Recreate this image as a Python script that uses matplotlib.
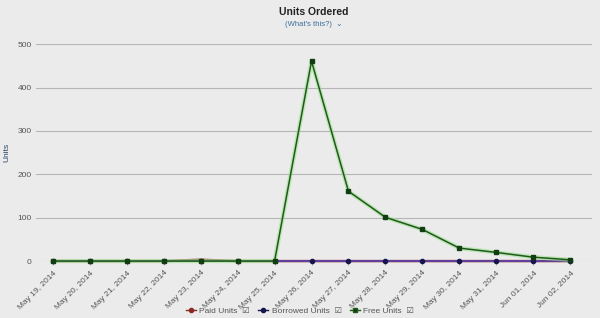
import matplotlib
matplotlib.use("Agg")
import matplotlib.pyplot as plt
from matplotlib.lines import Line2D

plt.rcParams['font.family'] = ['Liberation Sans', 'DejaVu Sans']

dates = ["May 19, 2014", "May 20, 2014", "May 21, 2014", "May 22, 2014", "May 23, 2014",
         "May 24, 2014", "May 25, 2014", "May 26, 2014", "May 27, 2014", "May 28, 2014",
         "May 29, 2014", "May 30, 2014", "May 31, 2014", "Jun 01, 2014", "Jun 02, 2014"]
paid_units = [0, 0, 0, 0, 3, 0, 0, 0, 0, 0, 0, 0, 0, 0, 0]
borrowed_units = [0, 0, 0, 0, 0, 0, 0, 0, 0, 0, 0, 0, 0, 0, 0]
free_units = [0, 0, 0, 0, 0, 0, 0, 461, 161, 101, 73, 30, 20, 9, 3]
y_ticks = [0, 100, 200, 300, 400, 500]

bg = "#ebebeb"
fig = plt.figure(figsize=(6, 3.18), dpi=100, facecolor=bg)
ax = fig.add_axes([0.06, 0.179, 0.927, 0.682], facecolor=bg)

x = list(range(len(dates)))

ax.plot(x, paid_units, color="#8b2a22", lw=1.8, alpha=0.85, clip_on=False, zorder=2.9)
ax.plot(x, borrowed_units, color="#5b3fa8", lw=1.3, marker="o", ms=3,
        mfc="#16164f", mec="#16164f", clip_on=False, zorder=3)
# glow for free units
ax.plot(x, free_units, color="#9be08f", lw=3.0, alpha=0.6, clip_on=False, zorder=3.5)
ax.plot(x, free_units, color="#1f5a1a", lw=1.1, marker="s", ms=3.5,
        mfc="#123d12", mec="#123d12", clip_on=False, zorder=4)

ax.set_ylim(0, 500)
ax.set_xlim(-0.46, 14.6)
ax.set_yticks(y_ticks)
ax.set_yticklabels([str(v) for v in y_ticks])
ax.yaxis.grid(True, color="#b5b5b5", lw=0.8)
ax.set_axisbelow(True)
for s in ax.spines.values():
    s.set_visible(False)
ax.tick_params(axis="y", length=0, labelsize=6, labelcolor="#555555", pad=3)
ax.set_xticks(x)
ax.set_xticklabels(dates, rotation=45, ha="right", rotation_mode="anchor",
                   fontsize=6, color="#555555")
ax.tick_params(axis="x", length=3, color="#aaaaaa", pad=3)
ax.set_ylabel("Units", fontsize=6, color="#2a3f6a", labelpad=5)

fig.text(0.523, 0.962, "Units Ordered", ha="center", va="center", fontsize=7.5,
         fontweight="bold", color="#222222")
fig.text(0.523, 0.922, "(What's this?)  \u2304", ha="center", va="center", fontsize=5.5,
         color="#3a6f9a")

handles = [
    Line2D([0], [0], color="#8b2a22", marker="o", ms=3, lw=1, mfc="#8b2a22"),
    Line2D([0], [0], color="#16164f", marker="o", ms=3, lw=1, mfc="#16164f"),
    Line2D([0], [0], color="#1f5a1a", marker="s", ms=3, lw=1, mfc="#123d12"),
]
labels = ["Paid Units  \u2611", "Borrowed Units  \u2611", "Free Units  \u2611"]
leg = fig.legend(handles, labels, loc="center", bbox_to_anchor=(0.5, 0.022), ncol=3,
                 frameon=False, fontsize=6, handlelength=1.2, handletextpad=0.4,
                 columnspacing=1.0)
for t in leg.get_texts():
    t.set_color("#555555")

fig.savefig("out.png", dpi=100, facecolor=bg)
